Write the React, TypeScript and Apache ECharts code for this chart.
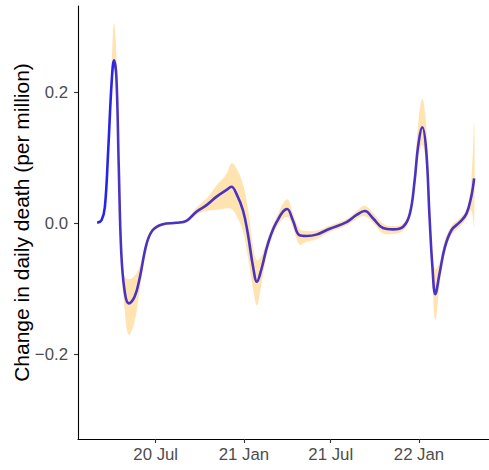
import React, { useEffect, useRef } from "react";
import * as echarts from "echarts";

const dates = [
  "2020-03-01", "2020-03-10", "2020-03-17", "2020-03-24", "2020-03-31", "2020-04-05", "2020-04-10", "2020-04-15",
  "2020-04-20", "2020-04-27", "2020-05-06", "2020-05-18", "2020-05-29", "2020-06-12", "2020-06-25", "2020-07-16",
  "2020-08-13", "2020-09-03", "2020-09-24", "2020-10-15", "2020-11-05", "2020-11-25", "2020-12-06", "2020-12-16",
  "2020-12-30", "2021-01-09", "2021-01-20", "2021-01-28", "2021-02-06", "2021-02-20", "2021-03-10", "2021-04-01",
  "2021-04-13", "2021-04-27", "2021-05-11", "2021-06-01", "2021-06-29", "2021-08-03", "2021-08-24", "2021-09-10",
  "2021-09-27", "2021-10-18", "2021-11-08", "2021-11-29", "2021-12-13", "2021-12-23", "2021-12-30", "2022-01-08",
  "2022-01-16", "2022-01-23", "2022-01-29", "2022-02-04", "2022-02-13", "2022-02-24", "2022-03-10", "2022-03-27",
  "2022-04-10", "2022-04-20", "2022-04-26",
];

const estimate = [
  0.001, 0.005, 0.025, 0.112, 0.214, 0.249, 0.224, 0.086,
  -0.041, -0.102, -0.122, -0.112, -0.082, -0.031, -0.010, -0.001,
  0.001, 0.004, 0.018, 0.028, 0.041, 0.051, 0.056, 0.046,
  0.020, -0.015, -0.066, -0.089, -0.071, -0.031, 0.002, 0.022,
  0.005, -0.018, -0.019, -0.017, -0.008, 0.002, 0.013, 0.019,
  0.008, -0.007, -0.009, -0.005, 0.015, 0.066, 0.117, 0.147,
  0.112, 0.010, -0.066, -0.108, -0.076, -0.036, -0.010, 0.002,
  0.015, 0.041, 0.069,
];

const upper = [
  0.003, 0.008, 0.03, 0.125, 0.24, 0.305, 0.26, 0.10,
  -0.03, -0.08, -0.085, -0.08, -0.065, -0.025, -0.007, 0.001,
  0.003, 0.007, 0.024, 0.038, 0.058, 0.075, 0.092, 0.085,
  0.06, 0.025, -0.035, -0.056, -0.05, -0.022, 0.01, 0.037,
  0.016, -0.008, -0.011, -0.011, -0.003, 0.007, 0.019, 0.027,
  0.016, 0.0, -0.004, 0.0, 0.022, 0.08, 0.15, 0.19,
  0.15, 0.03, -0.045, -0.07, -0.06, -0.026, -0.003, 0.008,
  0.022, 0.065, 0.155,
];

const lower = [
  -0.001, 0.002, 0.02, 0.10, 0.195, 0.235, 0.205, 0.075,
  -0.055, -0.13, -0.17, -0.15, -0.10, -0.038, -0.013, -0.003,
  -0.001, 0.001, 0.013, 0.019, 0.021, 0.023, 0.022, 0.012,
  -0.012, -0.05, -0.10, -0.125, -0.095, -0.042, -0.006, 0.01,
  -0.006, -0.032, -0.028, -0.024, -0.013, -0.003, 0.007, 0.011,
  0.001, -0.015, -0.016, -0.011, 0.008, 0.052, 0.095, 0.12,
  0.085, -0.01, -0.09, -0.148, -0.095, -0.046, -0.018, -0.005,
  0.007, 0.02, -0.005,
];

const xTickDates = ["2020-07-01", "2021-01-01", "2021-07-01", "2022-01-01"];
const xTickLabels = ["20 Jul", "21 Jan", "21 Jul", "22 Jan"];
const yTicks = [-0.2, 0, 0.2];
const yTickLabels = ["\u22120.2", "0.0", "0.2"];

const xMinDate = "2020-01-21";
const xMaxDate = "2022-05-27";

const DAY = 86400000;
const toTs = (d: string) => Date.UTC(+d.slice(0, 4), +d.slice(5, 7) - 1, +d.slice(8, 10));

export default function App() {
  const ref = useRef<HTMLDivElement>(null);
  useEffect(() => {
    if (!ref.current) return;
    const chart = echarts.init(ref.current, undefined, { renderer: "svg" });
    const tickTs = xTickDates.map(toTs);
    const xs = dates.map(toTs);
    const font = "Liberation Sans, Arial, sans-serif";
    chart.setOption({
      animation: false,
      grid: { left: 78, right: 0, top: 6, bottom: 31, containLabel: false, outerBoundsMode: "none" },
      xAxis: {
        type: "value",
        min: toTs(xMinDate),
        max: toTs(xMaxDate),
        axisLine: { show: true, onZero: false, lineStyle: { color: "#000", width: 1.1 } },
        axisTick: { show: true, customValues: tickTs, length: 4, lineStyle: { color: "#333", width: 1.1 } },
        axisLabel: {
          customValues: tickTs,
          color: "#4d4d4d",
          fontSize: 16.8,
          fontFamily: font,
          margin: 7,
          formatter: (v: number) => {
            const i = tickTs.findIndex((t) => Math.abs(t - v) < DAY);
            return i >= 0 ? xTickLabels[i] : "";
          },
        },
        splitLine: { show: false },
      },
      yAxis: {
        type: "value",
        min: -0.329,
        max: 0.332,
        name: "Change in daily death (per million)",
        nameLocation: "middle",
        nameGap: 46,
        nameMoveOverlap: false,
        nameTextStyle: { color: "#000", fontSize: 21, fontFamily: font },
        axisLine: { show: true, onZero: false, lineStyle: { color: "#000", width: 1.1 } },
        axisTick: { show: true, customValues: yTicks, length: 4, lineStyle: { color: "#333", width: 1.1 } },
        axisLabel: {
          customValues: yTicks,
          color: "#4d4d4d",
          fontSize: 16.8,
          fontFamily: font,
          margin: 10,
          formatter: (v: number) => {
            const i = yTicks.findIndex((t) => Math.abs(t - v) < 1e-6);
            return i >= 0 ? yTickLabels[i] : "";
          },
        },
        splitLine: { show: false },
      },
      series: [
        {
          type: "custom",
          coordinateSystem: "cartesian2d",
          silent: true,
          clip: true,
          encode: { x: 0, y: [1, 2] },
          data: xs.map((x, i) => [x, lower[i], upper[i]]),
          renderItem: (params: any, api: any) => {
            if (params.dataIndex !== 0) return null;
            const top = xs.map((x, i) => api.coord([x, upper[i]]));
            const bot = xs.map((x, i) => api.coord([x, lower[i]])).reverse();
            return {
              type: "polygon",
              shape: { points: top.concat(bot), smooth: 0.4 },
              style: { fill: "#FFE4B2", stroke: "none" },
            };
          },
        },
        {
          type: "line",
          data: xs.map((x, i) => [x, estimate[i]]),
          smooth: 0.4,
          symbol: "none",
          z: 3,
          lineStyle: {
            width: 2.6,
            color: new echarts.graphic.LinearGradient(0, 0, 1, 0, [
              { offset: 0, color: "#2323ee" },
              { offset: 0.042, color: "#2a25e6" },
              { offset: 0.05, color: "#4a33c2" },
              { offset: 1, color: "#4a33c2" },
            ]),
          },
        },
      ],
    });
    return () => chart.dispose();
  }, []);
  return <div ref={ref} style={{ width: 489, height: 470, position: "absolute", left: 0, top: 0 }} />;
}
